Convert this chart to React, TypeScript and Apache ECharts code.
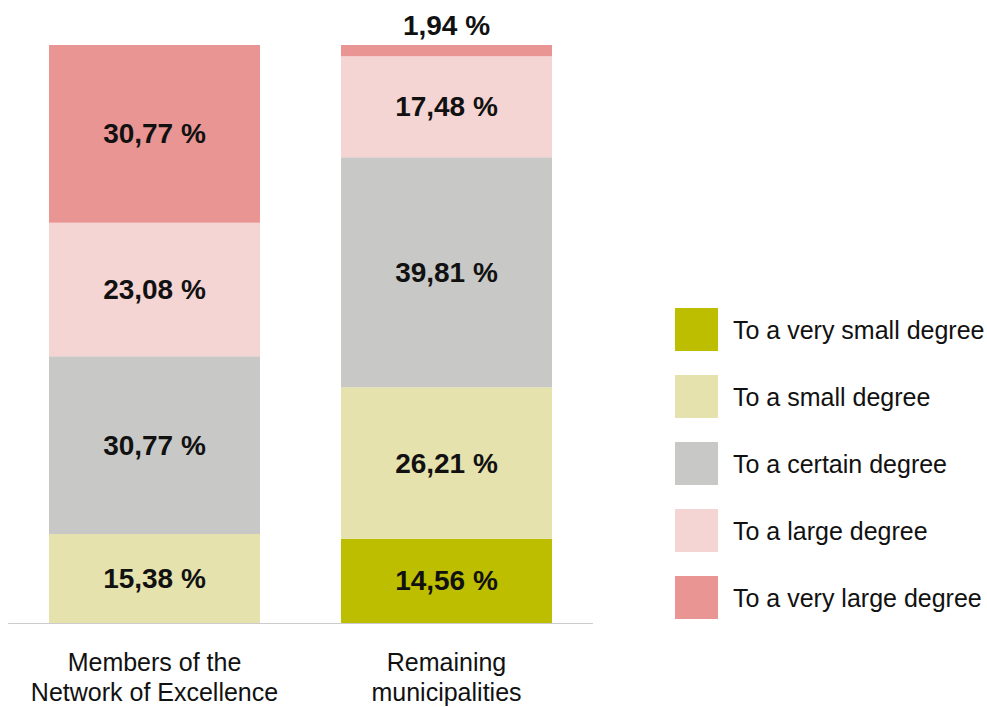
import React, { useEffect, useRef } from "react";
import * as echarts from "echarts";

const categories = ["Members of the\nNetwork of Excellence", "Remaining\nmunicipalities"];
const seriesNames = [
  "To a very small degree",
  "To a small degree",
  "To a certain degree",
  "To a large degree",
  "To a very large degree",
];
const verySmall = [0, 14.56];
const small = [15.38, 26.21];
const certain = [30.77, 39.81];
const large = [23.08, 17.48];
const veryLarge = [30.77, 1.94];
const colors = ["#BEBE00", "#E5E2AD", "#C8C8C7", "#F5D5D3", "#E89593"];

const FONT = "'Liberation Sans', Arial, Helvetica, sans-serif";

const fmt = (v: number) => v.toFixed(2).replace(".", ",") + " %";

export default function App() {
  const ref = useRef<HTMLDivElement>(null);
  useEffect(() => {
    if (!ref.current) return;
    const chart = echarts.init(ref.current, null, { renderer: "svg" });
    const all = [verySmall, small, certain, large, veryLarge];
    const series = all.map((arr, si) => ({
      name: seriesNames[si],
      type: "bar",
      stack: "total",
      barWidth: 211,
      itemStyle: { color: colors[si] },
      label: {
        show: true,
        position: "inside",
        fontFamily: FONT,
        fontSize: 28,
        fontWeight: "bold",
        color: "#111",
        formatter: (p: any) => (p.value > 0 ? fmt(p.value) : ""),
      },
      data: arr.map((v) =>
        v > 0 && v < 5
          ? { value: v, label: { position: "top", distance: 6 } }
          : v
      ),
    }));
    chart.setOption({
      animation: false,
      grid: { left: 8.5, right: 394.5, top: 45, bottom: 83 },
      xAxis: {
        type: "category",
        data: categories,
        axisLine: { lineStyle: { color: "#cccccc", width: 1 } },
        axisTick: { show: false },
        axisLabel: {
          interval: 0,
          fontFamily: FONT,
          fontSize: 25,
          color: "#111",
          lineHeight: 30,
          margin: 24,
        },
      },
      yAxis: {
        type: "value",
        min: 0,
        max: 100,
        show: false,
        splitLine: { show: false },
      },
      legend: {
        orient: "vertical",
        left: 675,
        top: 308,
        padding: 0,
        itemWidth: 43,
        itemHeight: 43,
        itemGap: 24,
        icon: "rect",
        data: seriesNames,
        textStyle: {
          fontFamily: FONT,
          fontSize: 25,
          color: "#111",
          padding: [0, 0, 0, 10],
        },
      },
      series,
    });
    return () => chart.dispose();
  }, []);
  return <div ref={ref} style={{ width: 987, height: 707, position: "absolute", left: 0, top: 0 }} />;
}
